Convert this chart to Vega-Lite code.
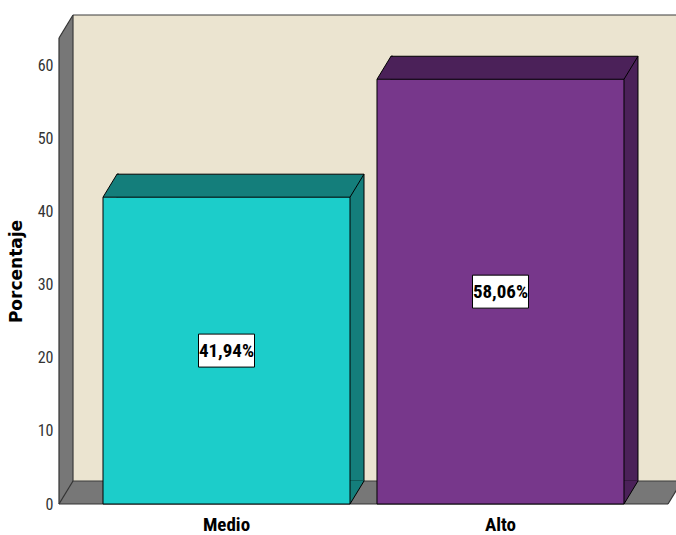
{
  "$schema": "https://vega.github.io/schema/vega-lite/v6.json",
  "autosize": {"type": "none"},
  "padding": {"left": 59, "top": 38, "right": 8, "bottom": 31},
  "width": 609,
  "height": 466,
  "background": "white",
  "config": {"view": {"stroke": null}},
  "datasets": {
    "niveles": [
      {"Nivel": "Medio", "Porcentaje": 41.94},
      {"Nivel": "Alto", "Porcentaje": 58.06}
    ]
  },
  "layer": [
    {
      "description": "3D frame: side wall, floor and back wall",
      "data": {"values": [{}]},
      "encoding": {
        "x": {"datum": 0, "type": "quantitative", "scale": {"domain": [0, 1], "nice": false, "zero": false}, "axis": null},
        "y": {"datum": 0, "type": "quantitative", "scale": {"domain": [0, 63.7], "nice": false}, "axis": null}
      },
      "layer": [
        {
          "mark": {"type": "rect", "fill": "#777777", "x2Offset": 14, "y2Offset": -23},
          "encoding": {"x2": {"datum": 1}, "y2": {"datum": 63.7}}
        },
        {
          "mark": {"type": "rect", "fill": "#ebe4d0", "stroke": "#3d3d3d", "strokeWidth": 1.2, "xOffset": 14, "x2Offset": 14, "yOffset": -23, "y2Offset": -23},
          "encoding": {"x2": {"datum": 1}, "y2": {"datum": 63.7}}
        },
        {
          "mark": {"type": "point", "shape": "M-4,0 L0,0 L14,-23 L14,-27 L-4,-27 Z", "size": 4, "filled": true, "fill": "white", "strokeWidth": 0, "opacity": 1},
          "encoding": {"y": {"datum": 63.7}}
        },
        {
          "mark": {"type": "point", "shape": "M0,0 L14,-23 L18,-23 L18,4 L0,4 Z", "size": 4, "filled": true, "fill": "white", "strokeWidth": 0, "opacity": 1},
          "encoding": {"x": {"datum": 1}}
        },
        {
          "mark": {"type": "rule", "color": "#333333", "strokeWidth": 1.2},
          "encoding": {"y2": {"datum": 63.7}}
        },
        {
          "mark": {"type": "rule", "color": "#333333", "strokeWidth": 1.2},
          "encoding": {"x2": {"datum": 1}}
        },
        {
          "mark": {"type": "rule", "color": "#333333", "strokeWidth": 1.2, "x2Offset": 14, "y2Offset": -23},
          "encoding": {"x2": {"datum": 0}, "y": {"datum": 63.7}, "y2": {"datum": 63.7}}
        },
        {
          "mark": {"type": "rule", "color": "#333333", "strokeWidth": 1.2, "x2Offset": 14, "y2Offset": -23},
          "encoding": {"x2": {"datum": 0}, "y2": {"datum": 0}}
        },
        {
          "mark": {"type": "rule", "color": "#333333", "strokeWidth": 1.2, "x2Offset": 14, "y2Offset": -23},
          "encoding": {"x": {"datum": 1}, "x2": {"datum": 1}, "y2": {"datum": 0}}
        }
      ]
    },
    {
      "description": "3D bars",
      "data": {"name": "niveles"},
      "encoding": {
        "x": {
          "field": "Nivel", "type": "nominal", "sort": ["Medio", "Alto"],
          "scale": {"type": "band", "paddingInner": 0.0985, "paddingOuter": 0.1606},
          "axis": {
            "orient": "bottom", "title": null, "domain": false, "ticks": false, "tickSize": 0,
            "labelAngle": 0, "labelPadding": 26, "labelBaseline": "alphabetic",
            "labelFont": "Roboto Condensed, Liberation Sans Narrow, DejaVu Sans Condensed, sans-serif",
            "labelFontSize": 19, "labelFontWeight": "bold", "labelColor": "#000000"
          }
        },
        "y": {
          "field": "Porcentaje", "type": "quantitative",
          "scale": {"domain": [0, 63.7], "nice": false},
          "axis": {
            "values": [0, 10, 20, 30, 40, 50, 60], "title": "Porcentaje",
            "titleFont": "DejaVu Sans", "titleFontSize": 17, "titleFontWeight": "bold",
            "titleColor": "#000000", "titlePadding": 12,
            "labelFont": "Roboto Condensed, Liberation Sans Narrow, DejaVu Sans Condensed, sans-serif",
            "labelFontSize": 16, "labelColor": "#333333", "labelPadding": 6,
            "ticks": false, "tickSize": 0, "domain": false, "grid": false
          }
        }
      },
      "layer": [
        {
          "mark": {"type": "bar", "stroke": "#000000", "strokeWidth": 1, "xOffset": 14, "yOffset": -23, "y2Offset": -23},
          "encoding": {"fill": {"condition": {"test": "datum.Nivel === 'Medio'", "value": "#147e7b"}, "value": "#4b2159"}}
        },
        {
          "mark": {"type": "point", "shape": "M0,0 L14,-23 L16,-23 L16,0 Z", "size": 4, "filled": true, "strokeWidth": 0, "opacity": 1},
          "encoding": {
            "x": {"field": "Nivel", "type": "nominal", "sort": ["Medio", "Alto"], "bandPosition": 0},
            "fill": {"condition": {"test": "datum.Nivel === 'Medio'", "value": "#147e7b"}, "value": "#4b2159"}
          }
        },
        {
          "mark": {"type": "point", "shape": "M0,0 L0,-23.6 L13.6,-23.6 L14,-23 Z", "size": 4, "filled": true, "strokeWidth": 0, "opacity": 1},
          "encoding": {
            "x": {"field": "Nivel", "type": "nominal", "sort": ["Medio", "Alto"], "bandPosition": 1},
            "y": {"datum": 0, "type": "quantitative"},
            "fill": {"condition": {"test": "datum.Nivel === 'Medio'", "value": "#147e7b"}, "value": "#4b2159"}
          }
        },
        {
          "mark": {"type": "bar", "stroke": "#000000", "strokeWidth": 1},
          "encoding": {"fill": {"condition": {"test": "datum.Nivel === 'Medio'", "value": "#1ccdca"}, "value": "#77378b"}}
        },
        {
          "mark": {"type": "point", "shape": "M0,0 L14,-23 L16,-23", "size": 4, "filled": false, "stroke": "#000000", "strokeWidth": 1, "opacity": 1},
          "encoding": {"x": {"field": "Nivel", "type": "nominal", "sort": ["Medio", "Alto"], "bandPosition": 0}}
        },
        {
          "mark": {"type": "point", "shape": "M0,0 L14,-23", "size": 4, "filled": false, "stroke": "#000000", "strokeWidth": 1, "opacity": 1},
          "encoding": {"x": {"field": "Nivel", "type": "nominal", "sort": ["Medio", "Alto"], "bandPosition": 1}}
        },
        {
          "mark": {"type": "point", "shape": "M0,0 L14,-23", "size": 4, "filled": false, "stroke": "#000000", "strokeWidth": 1, "opacity": 1},
          "encoding": {
            "x": {"field": "Nivel", "type": "nominal", "sort": ["Medio", "Alto"], "bandPosition": 1},
            "y": {"datum": 0, "type": "quantitative"}
          }
        }
      ]
    },
    {
      "description": "Value labels centred on each bar (half-height via a doubled domain)",
      "data": {"name": "niveles"},
      "encoding": {
        "x": {
          "field": "Nivel", "type": "nominal", "sort": ["Medio", "Alto"],
          "scale": {"type": "band", "paddingInner": 0.0985, "paddingOuter": 0.1606},
          "axis": null
        },
        "y": {"field": "Porcentaje", "type": "quantitative", "scale": {"domain": [0, 127.4], "nice": false}, "axis": null}
      },
      "layer": [
        {
          "mark": {"type": "point", "shape": "M-28,-16.5 L28,-16.5 L28,16.5 L-28,16.5 Z", "size": 4, "filled": true, "fill": "#ffffff", "stroke": "#000000", "strokeWidth": 1, "opacity": 1}
        },
        {
          "mark": {
            "type": "text", "align": "center", "baseline": "middle",
            "font": "Roboto Condensed, Liberation Sans Narrow, DejaVu Sans Condensed, sans-serif",
            "fontSize": 19, "fontWeight": "bold", "color": "#000000",
            "text": {"expr": "replace(format(datum.Porcentaje, '.2f'), '.', ',') + '%'"}
          }
        }
      ]
    }
  ],
  "resolve": {"scale": {"x": "independent", "y": "independent"}}
}
